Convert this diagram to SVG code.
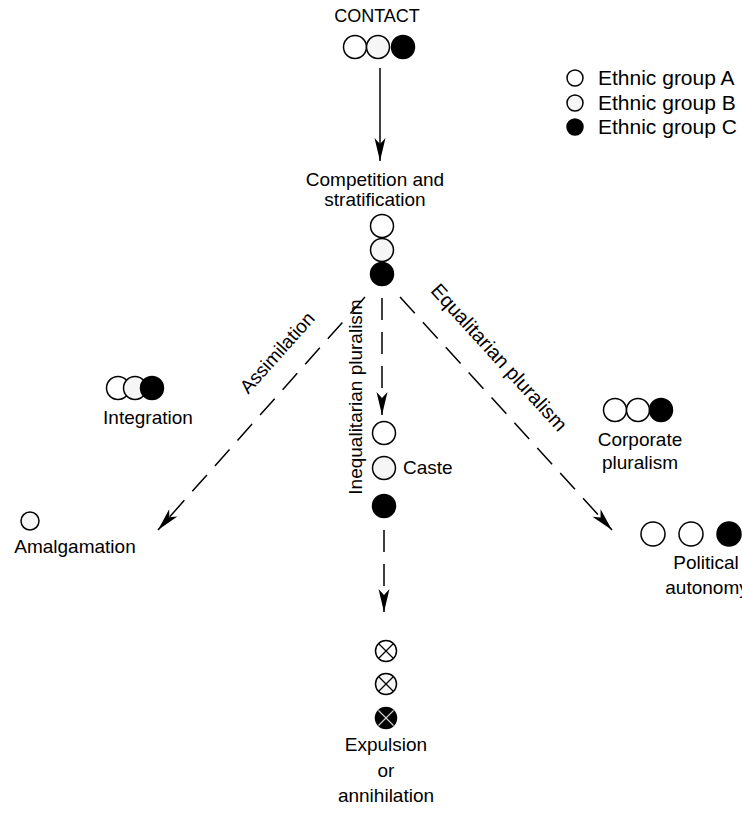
<svg xmlns="http://www.w3.org/2000/svg" width="742" height="819" viewBox="0 0 742 819">
<defs>
<style>
text{font-family:"Liberation Sans",Arial,sans-serif;font-size:19px;fill:#000}
.c{text-anchor:middle}
.lg{font-size:21px}
.a{fill:#fff;stroke:#000;stroke-width:1.5}
.b{fill:#f6f6f6;stroke:#000;stroke-width:1.5}
.k{fill:#000;stroke:#000;stroke-width:1.5}
.x{stroke:#000;stroke-width:1.3}
.xw{stroke:#ccc;stroke-width:1.3}
.d{stroke:#000;stroke-width:1.5;fill:none;stroke-dasharray:22 12}
.s{stroke:#000;stroke-width:1.5;fill:none}
</style>
<marker id="ah" viewBox="-24 -6 26 12" refX="0" refY="0" markerWidth="26" markerHeight="12" markerUnits="userSpaceOnUse" orient="auto">
<path d="M0,0 L-23,-5.5 L-17,0 L-23,5.5 Z" fill="#000"/>
</marker>
</defs>
<rect width="742" height="819" fill="#fff"/>

<g id="connectors">
<line class="s" x1="380" y1="68" x2="380" y2="161" marker-end="url(#ah)"/>
<line class="d" x1="365" y1="297" x2="158" y2="530" marker-end="url(#ah)"/>
<line class="d" x1="382" y1="298" x2="382" y2="415" marker-end="url(#ah)"/>
<line class="d" x1="384" y1="530" x2="384" y2="612" marker-end="url(#ah)"/>
<line class="d" x1="400" y1="297" x2="612" y2="530" marker-end="url(#ah)"/>
<text class="c" transform="translate(282,357) rotate(-48.2)">Assimilation</text>
<text class="c" transform="translate(362,397) rotate(-90)">Inequalitarian pluralism</text>
<text class="c" transform="translate(494,362) rotate(47.7)" style="font-size:20px">Equalitarian pluralism</text>
</g>

<g id="contact">
<text class="c" x="377" y="22" style="font-size:18px">CONTACT</text>
<circle class="a" cx="355" cy="47" r="11.5"/>
<circle class="b" cx="378" cy="47" r="11.5"/>
<circle class="k" cx="403" cy="47" r="11.5"/>
</g>

<g id="legend">
<circle class="a" cx="575" cy="78" r="8"/>
<text class="lg" x="598" y="85">Ethnic group A</text>
<circle class="b" cx="575" cy="103" r="8"/>
<text class="lg" x="598" y="110">Ethnic group B</text>
<circle class="k" cx="575" cy="127" r="8"/>
<text class="lg" x="598" y="134">Ethnic group C</text>
</g>

<g id="competition">
<text class="c" x="375" y="186">Competition and</text>
<text class="c" x="375" y="206">stratification</text>
<circle class="a" cx="382" cy="226" r="11.5"/>
<circle class="b" cx="382" cy="250" r="11.5"/>
<circle class="k" cx="382" cy="274" r="11.5"/>
</g>

<g id="integration">
<circle class="a" cx="118" cy="388" r="11.5"/>
<circle class="b" cx="135" cy="388" r="11.5"/>
<circle class="k" cx="152" cy="388" r="11.5"/>
<text class="c" x="148" y="424">Integration</text>
</g>

<g id="amalgamation">
<circle class="b" cx="30" cy="521" r="9"/>
<text class="c" x="75" y="553">Amalgamation</text>
</g>

<g id="caste">
<circle class="a" cx="384" cy="433" r="11.5"/>
<circle class="b" cx="384" cy="468" r="11.5"/>
<circle class="k" cx="384" cy="506" r="11.5"/>
<text x="403" y="474">Caste</text>
</g>

<g id="corporate">
<circle class="a" cx="615" cy="410" r="11.5"/>
<circle class="a" cx="638" cy="410" r="11.5"/>
<circle class="k" cx="661" cy="410" r="11.5"/>
<text class="c" x="640" y="446">Corporate</text>
<text class="c" x="640" y="469">pluralism</text>
</g>

<g id="autonomy">
<circle class="a" cx="653" cy="534" r="12"/>
<circle class="a" cx="691" cy="534" r="12"/>
<circle class="k" cx="729" cy="534" r="12"/>
<text class="c" x="706" y="569">Political</text>
<text class="c" x="707" y="594">autonomy</text>
</g>

<g id="expulsion">
<circle class="a" cx="386" cy="651" r="10.5"/>
<line class="x" x1="378.5" y1="643.5" x2="393.5" y2="658.5"/>
<line class="x" x1="393.5" y1="643.5" x2="378.5" y2="658.5"/>
<circle class="b" cx="386" cy="684" r="10.5"/>
<line class="x" x1="378.5" y1="676.5" x2="393.5" y2="691.5"/>
<line class="x" x1="393.5" y1="676.5" x2="378.5" y2="691.5"/>
<circle class="k" cx="386" cy="718" r="10.5"/>
<line class="xw" x1="378.5" y1="710.5" x2="393.5" y2="725.5"/>
<line class="xw" x1="393.5" y1="710.5" x2="378.5" y2="725.5"/>
<text class="c" x="386" y="751">Expulsion</text>
<text class="c" x="386" y="777">or</text>
<text class="c" x="386" y="802">annihilation</text>
</g>
</svg>
